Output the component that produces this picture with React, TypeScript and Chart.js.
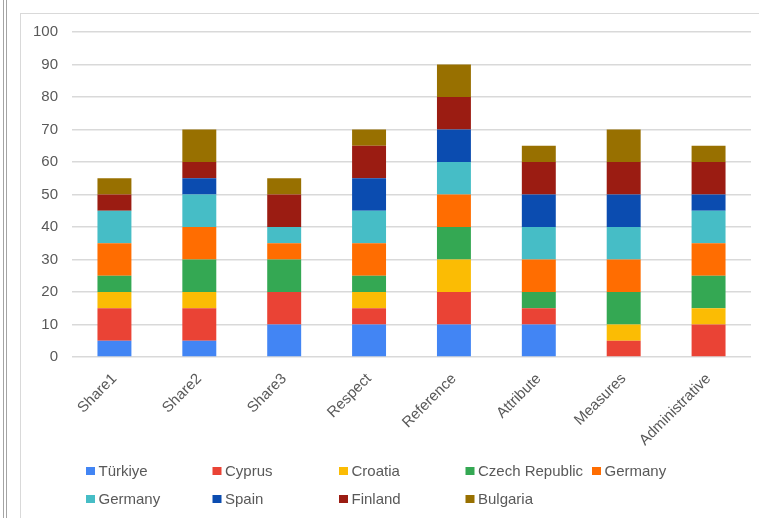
import { useEffect, useRef } from "react";
import { Chart, registerables } from "chart.js";

Chart.register(...registerables);

// Categories along the x axis
const categories = [
  "Share1",
  "Share2",
  "Share3",
  "Respect",
  "Reference",
  "Attribute",
  "Measures",
  "Administrative",
];

// Stacked contributions per country
const turkiye = [5, 5, 10, 10, 10, 10, 0, 0];
const cyprus = [10, 10, 10, 5, 10, 5, 5, 10];
const croatia = [5, 5, 0, 5, 10, 0, 5, 5];
const czechRepublic = [5, 10, 10, 5, 10, 5, 10, 10];
const germanyOrange = [10, 10, 5, 10, 10, 10, 10, 10];
const germanyTeal = [10, 10, 5, 10, 10, 10, 10, 10];
const spain = [0, 5, 0, 10, 10, 10, 10, 5];
const finland = [5, 5, 10, 10, 10, 10, 10, 10];
const bulgaria = [5, 10, 5, 5, 10, 5, 10, 5];

const seriesNames = [
  "Türkiye",
  "Cyprus",
  "Croatia",
  "Czech Republic",
  "Germany",
  "Germany",
  "Spain",
  "Finland",
  "Bulgaria",
];
const seriesValues = [
  turkiye,
  cyprus,
  croatia,
  czechRepublic,
  germanyOrange,
  germanyTeal,
  spain,
  finland,
  bulgaria,
];
const seriesColors = [
  "#4285f4",
  "#ea4335",
  "#fbbc04",
  "#34a853",
  "#ff6d01",
  "#46bdc6",
  "#0b4cb0",
  "#9b1c12",
  "#987000",
];

// Value axis range
const yMin = 0;
const yMax = 100;
const yStep = 10;

const FONT = '"Liberation Sans", Arial, sans-serif';
const TEXT = "#595959";

// Legend laid out in fixed-width columns beneath the axis labels
const gridLegend = {
  id: "gridLegend",
  afterDraw(chart: any) {
    const ctx = chart.ctx;
    const startX = 86;
    const colW = 126.5;
    const firstRowY = 471;
    const rowH = 28;
    const perRow = 5;
    ctx.save();
    ctx.font = `15px ${FONT}`;
    ctx.textBaseline = "middle";
    ctx.textAlign = "left";
    chart.data.datasets.forEach((ds: any, i: number) => {
      const col = i % perRow;
      const row = Math.floor(i / perRow);
      const x = startX + col * colW;
      const y = firstRowY + row * rowH;
      ctx.fillStyle = ds.backgroundColor;
      ctx.fillRect(x, y - 4, 9, 8);
      ctx.fillStyle = TEXT;
      ctx.fillText(ds.label, x + 12.5, y + 1);
    });
    ctx.restore();
  },
};

export default function App() {
  const canvasRef = useRef<HTMLCanvasElement | null>(null);

  useEffect(() => {
    if (!canvasRef.current) return;
    const chart = new Chart(canvasRef.current, {
      type: "bar",
      data: {
        labels: categories,
        datasets: seriesNames.map((name, i) => ({
          label: name,
          data: seriesValues[i],
          backgroundColor: seriesColors[i],
          borderWidth: 0,
          barPercentage: 0.4,
          categoryPercentage: 1,
        })),
      },
      options: {
        animation: false,
        responsive: false,
        devicePixelRatio: 1,
        layout: { padding: { left: 0, top: 32, right: 8, bottom: 0 } },
        plugins: {
          legend: { display: false },
          tooltip: { enabled: false },
        },
        scales: {
          x: {
            stacked: true,
            grid: { display: false, drawTicks: false },
            border: { display: false },
            ticks: {
              color: TEXT,
              font: { family: FONT, size: 15 },
              maxRotation: 45,
              minRotation: 45,
              padding: 13,
            },
            afterFit(scale: any) {
              scale.height = 161;
            },
          },
          y: {
            stacked: true,
            min: yMin,
            max: yMax,
            grid: { color: "#d9d9d9", lineWidth: 1.5, drawTicks: false },
            border: { display: false },
            ticks: {
              stepSize: yStep,
              color: TEXT,
              font: { family: FONT, size: 15 },
              padding: 14,
            },
            afterFit(scale: any) {
              scale.width = 72;
            },
          },
        },
      },
      plugins: [gridLegend],
    });
    return () => chart.destroy();
  }, []);

  return (
    <div
      style={{
        position: "fixed",
        left: 0,
        top: 0,
        width: 759,
        height: 518,
        overflow: "hidden",
        background: "#ffffff",
      }}
    >
      <div style={{ position: "absolute", left: 3, top: 0, width: 1.3, height: 518, background: "#a4a4a4" }} />
      <div style={{ position: "absolute", left: 6, top: 0, width: 1.3, height: 518, background: "#a4a4a4" }} />
      <div
        style={{
          position: "absolute",
          left: 20,
          top: 13,
          width: 800,
          height: 600,
          borderLeft: "1.5px solid #d9d9d9",
          borderTop: "1.5px solid #d9d9d9",
        }}
      />
      <canvas
        ref={canvasRef}
        width={759}
        height={518}
        style={{ position: "absolute", left: 0, top: 0 }}
      />
    </div>
  );
}
